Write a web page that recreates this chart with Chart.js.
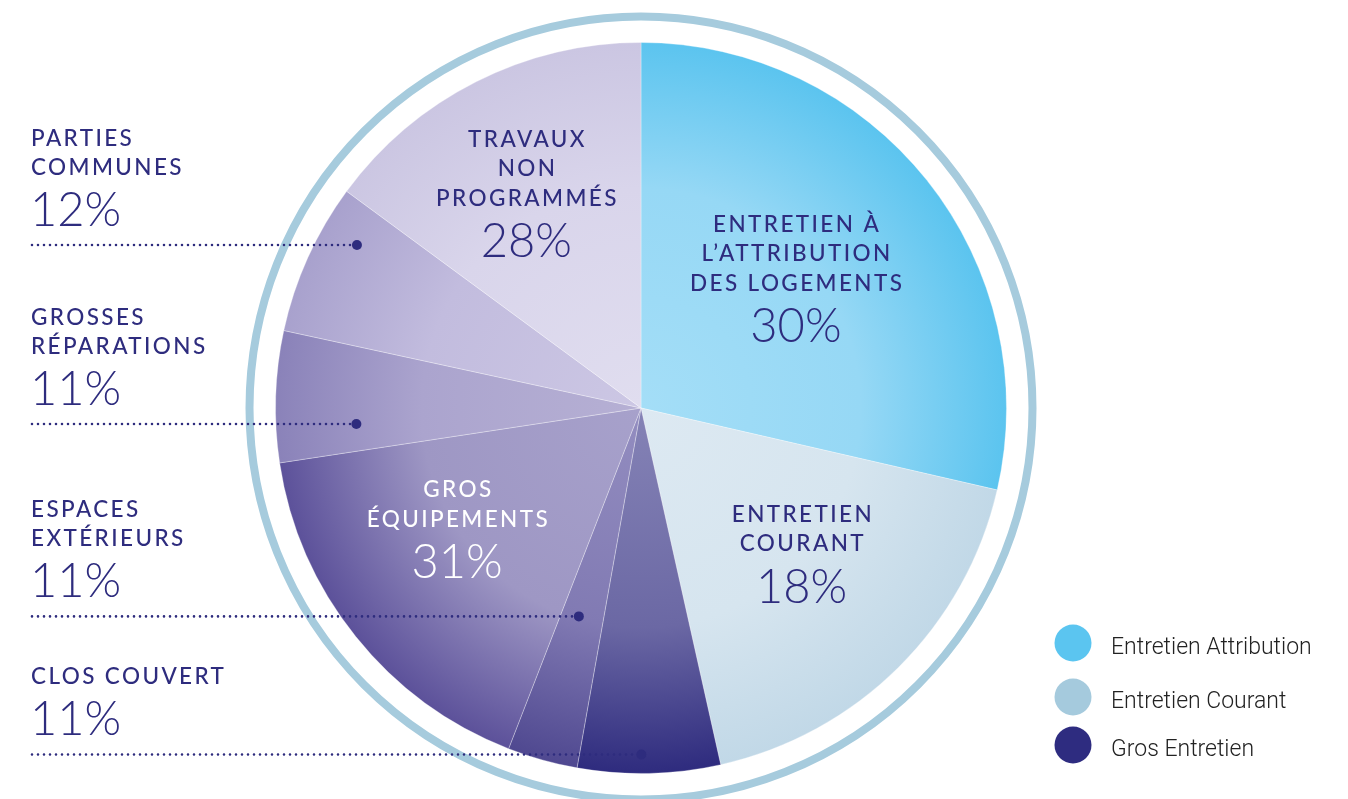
<!DOCTYPE html>
<html lang="fr">
<head>
    <meta charset="UTF-8">
    <title>Répartition des dépenses d'entretien</title>
    <script src="https://cdn.jsdelivr.net/npm/chart.js"></script>
    <style>
        html, body {
            margin: 0;
            padding: 0;
            background-color: #fff;
        }
        .chart-wrap {
            width: 1348px;
            height: 799px;
        }
    </style>
</head>
<body>
    <div class="chart-wrap">
        <canvas id="maintenanceChart" width="1348" height="799"></canvas>
    </div>

    <script>
        // slices clockwise from 12 o'clock, share of the full circle as drawn
        const sliceNames = ['Entretien à l’attribution des logements', 'Entretien courant', 'Clos couvert',
            'Espaces extérieurs', 'Gros équipements', 'Grosses réparations', 'Parties communes', 'Travaux non programmés'];
        const sliceShares = [28.6, 17.9, 6.3, 3.1, 16.7, 5.8, 6.7, 14.9];
        // percentages printed on the chart
        const slicePercents = ['30%', '18%', '11%', '11%', '31%', '11%', '12%', '28%'];
        // legend groups
        const groupNames = ['Entretien Attribution', 'Entretien Courant', 'Gros Entretien'];
        const groupColors = ['#5bc5f0', '#a5cadd', '#2e2c80'];

        // text shown inside the big slices
        const insideText = {
            0: ['ENTRETIEN À', 'L’ATTRIBUTION', 'DES LOGEMENTS'],
            1: ['ENTRETIEN', 'COURANT'],
            4: ['GROS', 'ÉQUIPEMENTS'],
            7: ['TRAVAUX', 'NON', 'PROGRAMMÉS']
        };
        // text shown on the left, with dotted leader into the slice
        const sideText = {
            6: ['PARTIES', 'COMMUNES'],
            5: ['GROSSES', 'RÉPARATIONS'],
            3: ['ESPACES', 'EXTÉRIEURS'],
            2: ['CLOS COUVERT']
        };

        // styling: radial gradient stops for each slice (centre -> edge)
        const sliceGradients = [
            ['#a4def7', '#96d8f5', '#5bc4ef'],
            ['#dde9f2', '#d6e5ef', '#c1d8e7'],
            ['#8583b6', '#6b68a4', '#2e2b7e'],
            ['#938dc0', '#817ab3', '#4f4890'],
            ['#a7a1cb', '#9e97c4', '#5c519a'],
            ['#b6b0d4', '#aba4ce', '#8a82b9'],
            ['#ccc7e4', '#c2bcde', '#a8a1cd'],
            ['#e0ddef', '#d9d5eb', '#cbc6e2']
        ];
        // where the inside labels sit: angle offset (deg) from slice middle, radius fraction
        const insidePos = { 0: [-2.4, 0.561], 1: [-3.9, 0.585], 4: [6.4, 0.595], 7: [-0.8, 0.677] };
        // where the leader dots sit: fraction along the slice angle, radius fraction
        const dotPos = { 6: [0.73, 0.896], 5: [0.26, 0.78], 3: [0.585, 0.595], 2: [0.553, 0.948] };

        const NAVY = '#2e2c7e';
        const NAME_FONT = '500 22.5px Lato';
        const NAME_SPACING = 2.4;
        const PCT_FONT = '300 47px Lato';

        function radialFill(context) {
            const chart = context.chart;
            const area = chart.chartArea;
            const stops = sliceGradients[context.dataIndex];
            if (!area) return stops[1];
            const cx = (area.left + area.right) / 2;
            const cy = (area.top + area.bottom) / 2;
            const r = Math.min(area.width, area.height) / 2;
            const g = chart.ctx.createRadialGradient(cx, cy, 0, cx, cy, r);
            g.addColorStop(0, stops[0]);
            g.addColorStop(0.6, stops[1]);
            g.addColorStop(1, stops[2]);
            return g;
        }

        function drawText(c, text, x, y, font, align, spacing) {
            c.font = font;
            c.letterSpacing = spacing + 'px';
            c.textAlign = align;
            // trailing letter spacing shifts centred text, compensate
            const shift = align === 'center' ? spacing / 2 : 0;
            c.fillText(text, x + shift, y);
        }

        const labelPlugin = {
            id: 'pieLabels',
            beforeDatasetsDraw(chart) {
                const arc = chart.getDatasetMeta(0).data[0];
                const c = chart.ctx;
                c.save();
                c.beginPath();
                c.arc(arc.x, arc.y, arc.outerRadius + 26, 0, Math.PI * 2);
                c.lineWidth = 8;
                c.strokeStyle = '#a6cbdd';
                c.stroke();
                c.restore();
            },
            afterDatasetsDraw(chart) {
                const c = chart.ctx;
                const arcs = chart.getDatasetMeta(0).data;
                c.save();
                c.textBaseline = 'alphabetic';

                // labels inside the slices
                Object.keys(insideText).forEach(k => {
                    const i = +k;
                    const arc = arcs[i];
                    const lines = insideText[i];
                    const [off, rf] = insidePos[i];
                    const a = (arc.startAngle + arc.endAngle) / 2 + off * Math.PI / 180;
                    const x = arc.x + Math.cos(a) * arc.outerRadius * rf;
                    const y = arc.y + Math.sin(a) * arc.outerRadius * rf;
                    const b0 = y - (29.5 * (lines.length - 1) + 24.7) / 2;
                    c.fillStyle = i === 4 ? '#ffffff' : NAVY;
                    lines.forEach((t, n) => drawText(c, t, x, b0 + 29.5 * n, NAME_FONT, 'center', NAME_SPACING));
                    drawText(c, slicePercents[i], x, b0 + 29.5 * (lines.length - 1) + 51.5, PCT_FONT, 'center', 0);
                });

                // labels on the left with dotted leaders
                Object.keys(sideText).forEach(k => {
                    const i = +k;
                    const arc = arcs[i];
                    const [t, rf] = dotPos[i];
                    const a = arc.startAngle + (arc.endAngle - arc.startAngle) * t;
                    const dx = arc.x + Math.cos(a) * arc.outerRadius * rf;
                    const dy = arc.y + Math.sin(a) * arc.outerRadius * rf;
                    const left = 31;

                    c.fillStyle = NAVY;
                    const lines = sideText[i];
                    lines.forEach((s, n) => {
                        const base = dy - 70 - 29 * (lines.length - 1 - n);
                        drawText(c, s, left, base, NAME_FONT, 'left', NAME_SPACING);
                    });
                    drawText(c, slicePercents[i], left - 1, dy - 19, PCT_FONT, 'left', 0);

                    c.beginPath();
                    c.setLineDash([0, 6]);
                    c.lineCap = 'round';
                    c.lineWidth = 2.6;
                    c.strokeStyle = NAVY;
                    c.moveTo(left + 1, dy);
                    c.lineTo(dx, dy);
                    c.stroke();
                    c.setLineDash([]);

                    c.beginPath();
                    c.arc(dx, dy, 5, 0, Math.PI * 2);
                    c.fill();
                });

                // legend
                groupNames.forEach((name, g) => {
                    const cy = [643, 697, 745][g];
                    c.beginPath();
                    c.arc(1073, cy, 18.5, 0, Math.PI * 2);
                    c.fillStyle = groupColors[g];
                    c.fill();
                    c.fillStyle = '#222';
                    c.textBaseline = 'middle';
                    drawText(c, name, 1111, cy + 5, '300 23px Roboto', 'left', 0);
                    c.textBaseline = 'alphabetic';
                });
                c.restore();
            }
        };

        const ctx = document.getElementById('maintenanceChart').getContext('2d');
        const maintenanceChart = new Chart(ctx, {
            type: 'pie',
            data: {
                labels: sliceNames,
                datasets: [{
                    data: sliceShares,
                    backgroundColor: radialFill,
                    borderColor: 'rgba(255, 255, 255, 0.3)',
                    borderWidth: 1,
                    hoverOffset: 0
                }]
            },
            options: {
                responsive: false,
                animation: false,
                events: [],
                layout: {
                    padding: { left: 275, right: 341, top: 42, bottom: 25 }
                },
                plugins: {
                    legend: { display: false },
                    tooltip: { enabled: false }
                }
            },
            plugins: [labelPlugin]
        });
    </script>
</body>
</html>
